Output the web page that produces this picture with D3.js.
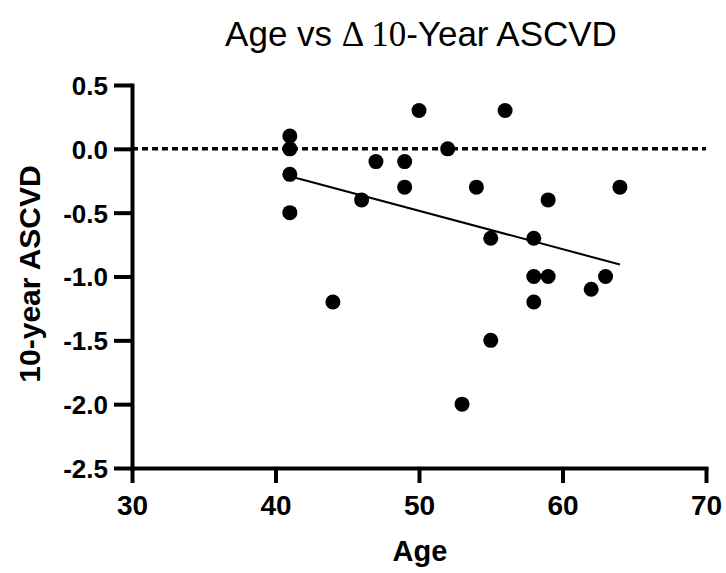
<!DOCTYPE html>
<html>
<head>
<meta charset="utf-8">
<script src="https://cdn.jsdelivr.net/npm/d3@7"></script>
<style>
  html, body { margin: 0; padding: 0; background: #fff; }
  svg { display: block; font-family: "Liberation Sans", Arial, sans-serif; }
</style>
</head>
<body>
<svg id="chart" width="726" height="573"></svg>
<script>
// ages and change in 10-year ASCVD, one entry per subject
var ages = [41, 41, 41, 41, 44, 46, 47, 49, 49, 50, 52, 53, 54, 55, 55, 56, 58, 58, 58, 59, 59, 62, 63, 64];
var deltas = [0.1, 0.0, -0.2, -0.5, -1.2, -0.4, -0.1, -0.1, -0.3, 0.3, 0.0, -2.0, -0.3, -0.7, -1.5, 0.3, -0.7, -1.0, -1.2, -0.4, -1.0, -1.1, -1.0, -0.3];

var xTicks = [30, 40, 50, 60, 70];
var yTicks = [0.5, 0.0, -0.5, -1.0, -1.5, -2.0, -2.5];

var svg = d3.select("#chart");

var x = d3.scaleLinear().domain([30, 70]).range([132, 706]);
var y = d3.scaleLinear().domain([-2.5, 0.5]).range([468, 85]);

var points = ages.map(function(a, i) { return [a, deltas[i]]; });

// least squares fit
var mx = d3.mean(ages), my = d3.mean(deltas);
var sxy = d3.sum(points, function(p) { return (p[0] - mx) * (p[1] - my); });
var sxx = d3.sum(ages, function(a) { return (a - mx) * (a - mx); });
var slope = sxy / sxx, intercept = my - slope * mx;
var fitX = d3.extent(ages);

// zero line
svg.append("line")
  .attr("x1", x(30)).attr("x2", x(70))
  .attr("y1", y(0)).attr("y2", y(0))
  .attr("stroke", "#000")
  .attr("stroke-width", 3.5)
  .attr("stroke-dasharray", "6,4");

// axes
var yAxis = svg.append("g")
  .attr("transform", "translate(" + x(30) + ",0)")
  .call(d3.axisLeft(y).tickValues(yTicks).tickSize(18).tickSizeOuter(0)
    .tickFormat(d3.format(".1f")));

var xAxis = svg.append("g")
  .attr("transform", "translate(0," + y(-2.5) + ")")
  .call(d3.axisBottom(x).tickValues(xTicks).tickSize(15).tickSizeOuter(0));

[yAxis, xAxis].forEach(function(g) {
  g.select(".domain").attr("stroke-width", 4).attr("stroke-linecap", "square");
  g.selectAll(".tick line").attr("stroke-width", 4);
  g.selectAll("text")
    .attr("fill", "#000")
    .style("font-family", "'Liberation Sans', Arial, sans-serif")
    .style("font-weight", "bold");
});

yAxis.selectAll("text")
  .style("font-size", "26px")
  .attr("x", -24)
  .attr("dy", "0.36em")
  .text(function(d) { return d3.format(".1f")(d).replace("−", "-"); });

xAxis.selectAll("text")
  .style("font-size", "28px")
  .attr("y", 27)
  .attr("dy", "0.71em");

// regression line
svg.append("line")
  .attr("x1", x(fitX[0])).attr("y1", y(intercept + slope * fitX[0]))
  .attr("x2", x(fitX[1])).attr("y2", y(intercept + slope * fitX[1]))
  .attr("stroke", "#000")
  .attr("stroke-width", 2);

// dots
svg.append("g")
  .selectAll("circle")
  .data(points)
  .enter().append("circle")
  .attr("cx", function(d) { return x(d[0]); })
  .attr("cy", function(d) { return y(d[1]); })
  .attr("r", 7.5)
  .attr("fill", "#000");

// title
var title = svg.append("text")
  .attr("x", 421)
  .attr("y", 46)
  .attr("text-anchor", "middle")
  .style("font-size", "35px");
title.append("tspan").text("Age vs ");
title.append("tspan").style("font-family", "'Liberation Serif', serif").text("Δ 10");
title.append("tspan").text("-Year ASCVD");

// axis titles
svg.append("text")
  .attr("x", 420)
  .attr("y", 561)
  .attr("text-anchor", "middle")
  .style("font-size", "29px")
  .style("font-weight", "bold")
  .text("Age");

svg.append("text")
  .attr("transform", "translate(40,274) rotate(-90)")
  .attr("text-anchor", "middle")
  .style("font-size", "30px")
  .style("font-weight", "bold")
  .text("10-year ASCVD");
</script>
</body>
</html>
